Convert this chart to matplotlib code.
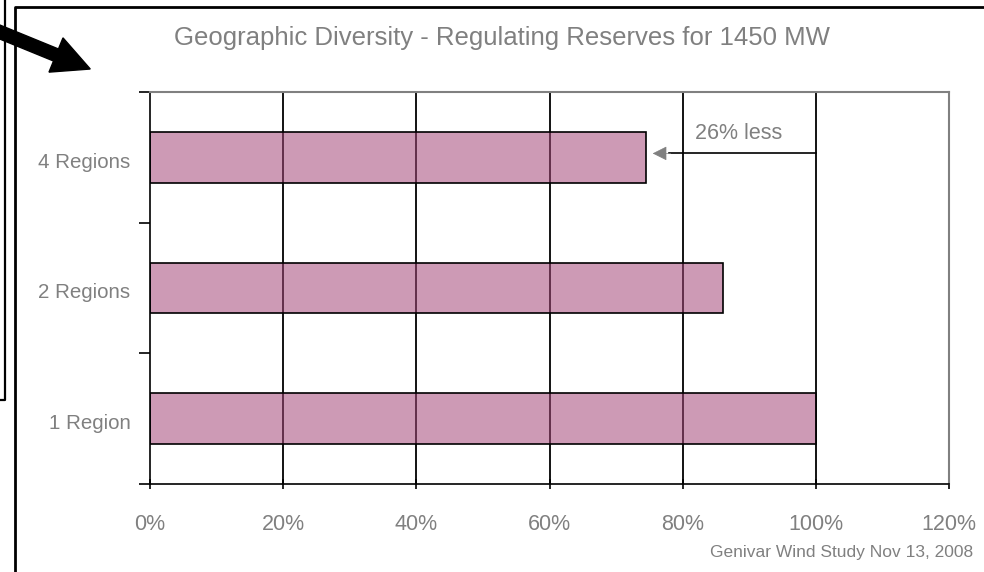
import matplotlib
matplotlib.use("Agg")
import matplotlib.pyplot as plt
from matplotlib.patches import FancyArrow
from matplotlib.lines import Line2D
from matplotlib.transforms import Affine2D

plt.rcParams['font.family'] = ['Liberation Sans', 'DejaVu Sans']

# data
regions = ['1 Region', '2 Regions', '4 Regions']
reserves = [100, 86, 74.5]   # % of single-region reserves
xticks = [0, 20, 40, 60, 80, 100, 120]
xtick_labels = ['0%', '20%', '40%', '60%', '80%', '100%', '120%']
note_text = '26% less'

grey = '#808080'
bar_face = (164 / 255, 71 / 255, 120 / 255, 0.55)

fig = plt.figure(figsize=(9.84, 5.72), dpi=100)
ax = fig.add_axes([150 / 984, 1 - 484 / 572, 799 / 984, 392 / 572])

ax.set_xlim(0, 120)
ax.set_ylim(-0.5, 2.5)

for x in xticks[1:-1]:
    ax.axvline(x, color='black', lw=1.3, zorder=1)

ax.barh(range(len(regions)), reserves, height=0.39, facecolor=bar_face,
        edgecolor='black', lw=1.2, zorder=2)

ax.set_xticks(xticks)
ax.set_xticklabels(xtick_labels, color=grey, fontsize=15.5)
ax.set_yticks(range(len(regions)))
ax.set_yticklabels(regions, color=grey, fontsize=14.8, va='top')
ax.set_yticks([-0.5, 0.5, 1.5, 2.5], minor=True)
ax.tick_params(axis='y', which='major', length=0, pad=14)
ax.tick_params(axis='y', which='minor', length=8, width=1.2, direction='out')
ax.tick_params(axis='x', length=7, width=1.2, direction='inout', pad=18)
for lab in ax.get_yticklabels():
    lab.set_y(lab.get_position()[1])
    lab.set_verticalalignment('center')
    lab.set_transform(lab.get_transform() + Affine2D().translate(0, -5))

ax.spines['left'].set_linewidth(1.2)
ax.spines['bottom'].set_linewidth(1.2)
ax.spines['top'].set_color(grey)
ax.spines['right'].set_color(grey)
ax.spines['top'].set_linewidth(1.5)
ax.spines['right'].set_linewidth(1.5)

# "26% less" annotation
ax.plot([100, 78], [2.03, 2.03], color='black', lw=1.2, zorder=3)
ax.annotate('', xy=(75.5, 2.03), xytext=(78.2, 2.03),
            arrowprops=dict(arrowstyle='-|>,head_length=0.9,head_width=0.45',
                            color=grey, lw=0.5, shrinkA=0, shrinkB=0), zorder=4)
ax.text(88.4, 2.18, note_text, color=grey, fontsize=15.5, ha='center', va='center')

fig.text(502 / 984, 1 - 38 / 572,
         'Geographic Diversity - Regulating Reserves for 1450 MW',
         color=grey, fontsize=18.5, ha='center', va='center')
fig.text(973 / 984, 1 - 553 / 572, 'Genivar Wind Study Nov 13, 2008',
         color=grey, fontsize=12.5, ha='right', va='center')

# slide frame and leftover shapes, in pixel coords
px = Affine2D().scale(1 / 984, 1 / 572) + fig.transFigure
fig.add_artist(Line2D([15, 15, 990], [-5, 565, 565], color='black', lw=2,
                      transform=px))
fig.add_artist(Line2D([-5, 4.5, 4.5], [172, 172, 580], color='black', lw=1.6,
                      transform=px))
fig.add_artist(FancyArrow(-10, 572 - 28, 66, -27, width=13, head_width=37,
                          head_length=37, length_includes_head=False,
                          color='black', transform=px))

fig.savefig('out.png', dpi=100)
